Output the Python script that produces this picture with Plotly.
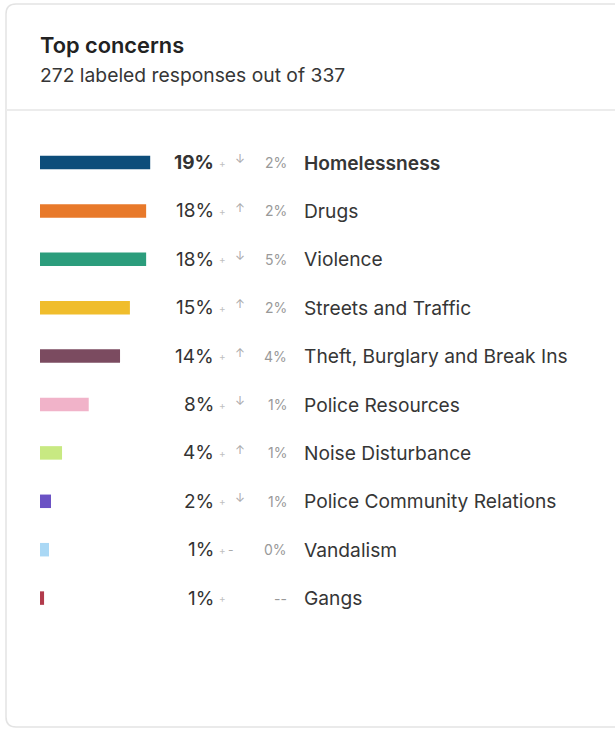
import plotly.graph_objects as go

W, H = 615, 732

categories = ["Homelessness", "Drugs", "Violence", "Streets and Traffic",
              "Theft, Burglary and Break Ins", "Police Resources",
              "Noise Disturbance", "Police Community Relations",
              "Vandalism", "Gangs"]
share = [19.0, 18.3, 18.3, 15.5, 13.8, 8.4, 3.8, 1.9, 1.55, 0.7]
pct_labels = ["19%", "18%", "18%", "15%", "14%", "8%", "4%", "2%", "1%", "1%"]
change_arrows = ["↓", "↑", "↓", "↑", "↑", "↓", "↑", "↓", "-", ""]
change_labels = ["2%", "2%", "5%", "2%", "4%", "1%", "1%", "1%", "0%", "--"]
colors = ["#0d4d7a", "#e8792a", "#2b9d7c", "#f0bd2c", "#7b4b60",
          "#f1b3c9", "#c8e982", "#6b52c4", "#aad8f5", "#b23b4c"]
title = "Top concerns"
subtitle = "272 labeled responses out of 337"

FONT = "Inter, 'Noto Sans', sans-serif"
PX_PER_UNIT = 5.8
X0 = 40
ROW0, ROWH = 162.5, 48.4
BAR_H = 13.5

def px(x):
    return x / W

def py(y):
    return 1 - y / H

idx = list(range(len(categories)))

fig = go.Figure()
fig.add_trace(go.Bar(
    x=share, y=idx, orientation="h", base=0,
    marker=dict(color=colors, line=dict(width=0)),
    width=BAR_H / ROWH, hoverinfo="skip", showlegend=False,
))

ann = []
ann.append(dict(x=px(38), y=py(45), xref="paper", yref="paper", text=title,
                showarrow=False, xanchor="left", yanchor="middle",
                font=dict(family=FONT, size=21.8, color="#222", weight=600)))
ann.append(dict(x=px(38), y=py(75), xref="paper", yref="paper", text=subtitle,
                showarrow=False, xanchor="left", yanchor="middle",
                font=dict(family=FONT, size=19.3, color="#363636")))

for i, cat in enumerate(categories):
    bold = (i == 0)
    ann.append(dict(x=px(216), y=i, xref="paper", yref="y",
                    text=pct_labels[i],
                    showarrow=False, xanchor="right", yanchor="middle",
                    font=dict(family=FONT, size=19, color="#333",
                              weight=700 if bold else 400)))
    ann.append(dict(x=px(222), y=i, xref="paper", yref="y", text="+",
                    showarrow=False, xanchor="center", yanchor="middle",
                    font=dict(family=FONT, size=10, color="#c0c0c0")))
    if change_arrows[i]:
        is_dash = change_arrows[i] == "-"
        ann.append(dict(x=px(231 if is_dash else 240), y=i if is_dash else i - 0.08,
                        xref="paper", yref="y",
                        text=change_arrows[i], showarrow=False,
                        xanchor="center", yanchor="middle",
                        font=dict(family=FONT, size=12, color="#aaa")))
    ann.append(dict(x=px(289), y=i, xref="paper", yref="y", text=change_labels[i],
                    showarrow=False, xanchor="right", yanchor="middle",
                    font=dict(family=FONT, size=14, color="#999")))
    ann.append(dict(x=px(302), y=i, xref="paper", yref="y",
                    text=cat,
                    showarrow=False, xanchor="left", yanchor="middle",
                    font=dict(family=FONT, size=19.2, color="#363636",
                              weight=600 if bold else 400)))

# card outline (rounded) and header separator
x1, x2, y1, y2, r = 6, 640, 4, 727, 10
rx, ry = r / W, r / H
path = (f"M {px(x1)+rx},{py(y1)} L {px(x2)},{py(y1)} L {px(x2)},{py(y2)} "
        f"L {px(x1)+rx},{py(y2)} Q {px(x1)},{py(y2)} {px(x1)},{py(y2)+ry} "
        f"L {px(x1)},{py(y1)-ry} Q {px(x1)},{py(y1)} {px(x1)+rx},{py(y1)} Z")
shapes = [
    dict(type="path", path=path, xref="paper", yref="paper",
         line=dict(color="#e3e3e3", width=1.5), fillcolor="rgba(0,0,0,0)", layer="below"),
    dict(type="line", x0=px(6), x1=1.05, y0=py(110), y1=py(110), xref="paper", yref="paper",
         line=dict(color="#ececec", width=2)),
]

fig.update_layout(
    width=W, height=H,
    margin=dict(l=0, r=0, t=0, b=0),
    paper_bgcolor="white", plot_bgcolor="white",
    xaxis=dict(range=[-X0 / PX_PER_UNIT, (W - X0) / PX_PER_UNIT], visible=False, fixedrange=True),
    yaxis=dict(range=[(H - ROW0) / ROWH, -ROW0 / ROWH], visible=False, fixedrange=True),
    annotations=ann, shapes=shapes,
    font=dict(family=FONT),
)

fig.write_html("out.html", config={"displayModeBar": False},
               post_script="document.body.style.margin='0';document.body.style.overflow='hidden';")
